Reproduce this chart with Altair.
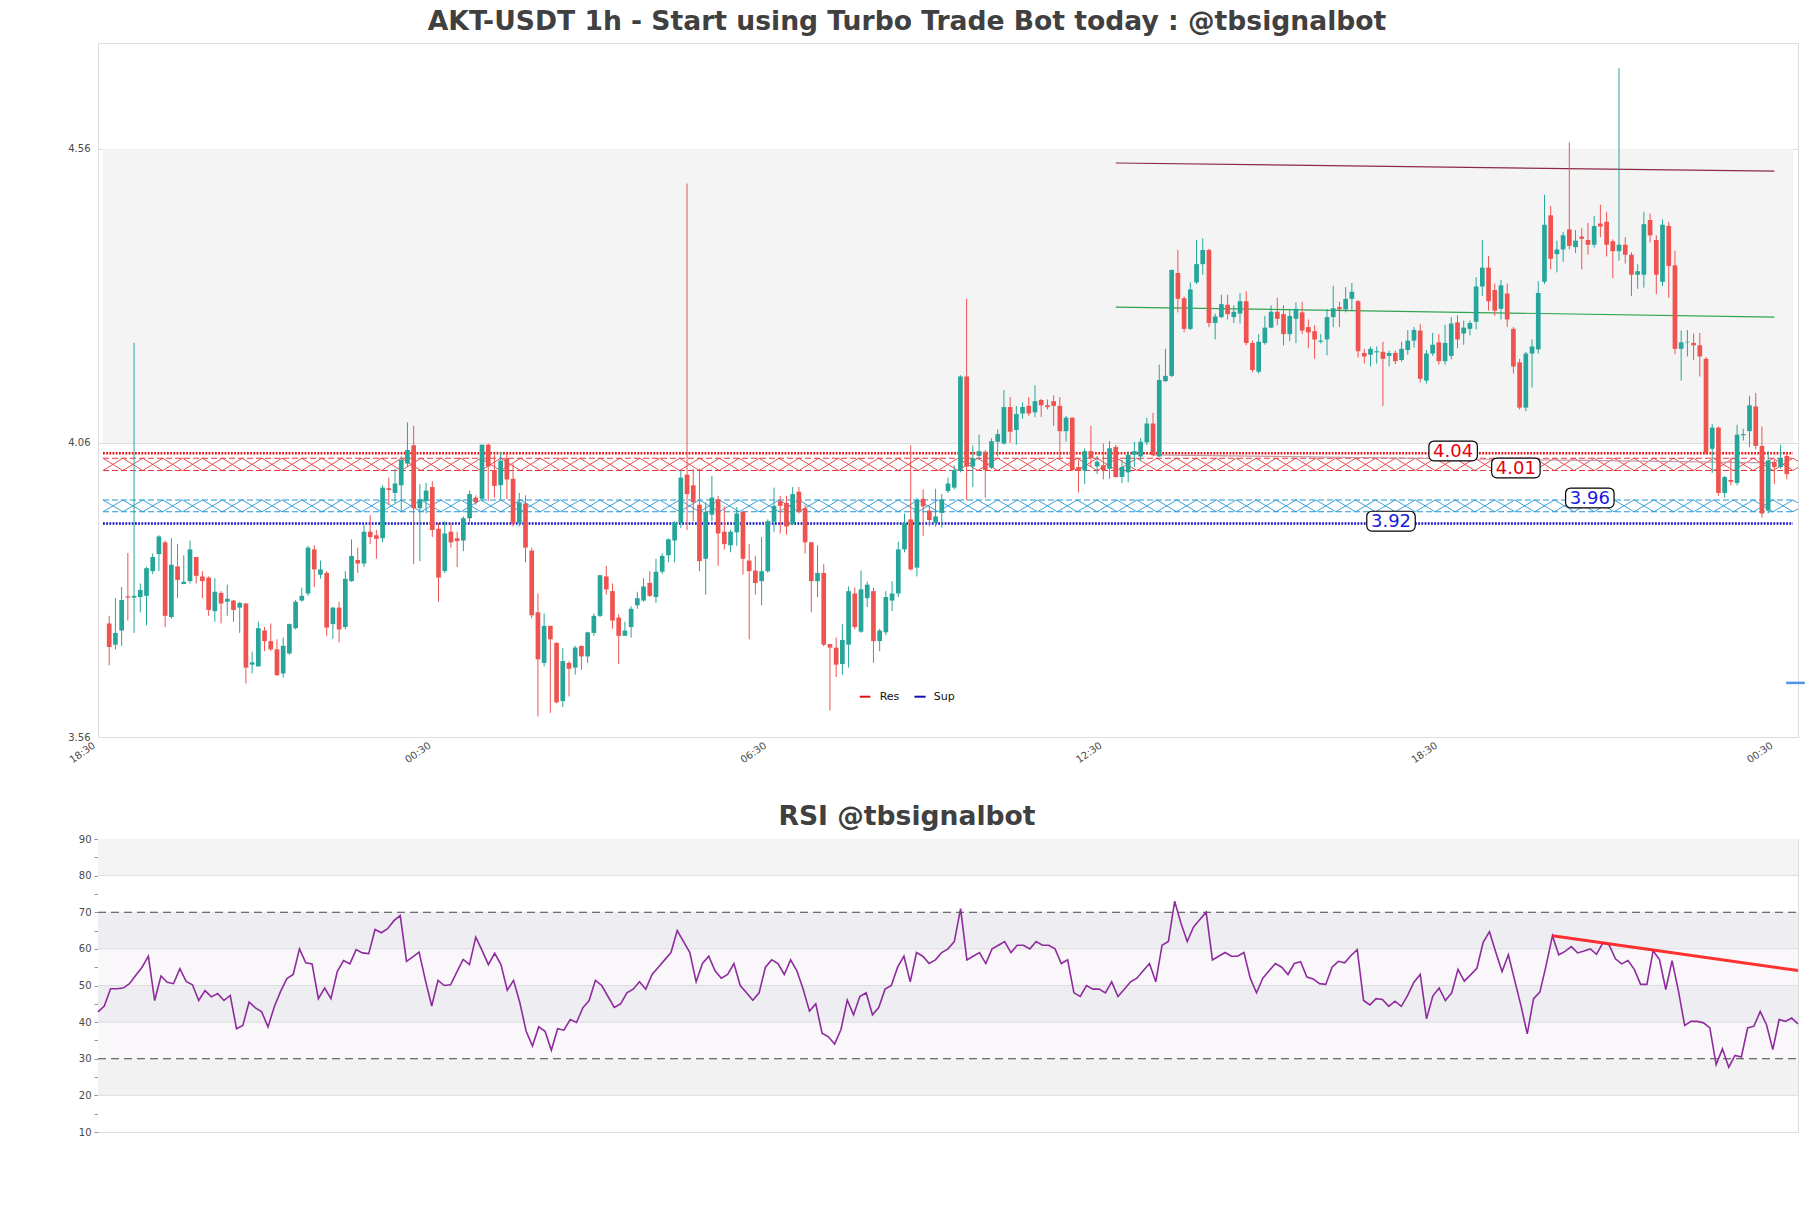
import altair as alt
import pandas as pd

# ---------------- data ----------------
open_ = [3.753, 3.717, 3.741, 3.799, 3.797, 3.798, 3.800, 3.842, 3.871, 3.891,
         3.764, 3.850, 3.820, 3.825, 3.866, 3.833, 3.831, 3.774, 3.805, 3.790,
         3.792, 3.780, 3.787, 3.683, 3.680, 3.741, 3.723, 3.709, 3.668, 3.702,
         3.745, 3.792, 3.804, 3.879, 3.836, 3.839, 3.752, 3.780, 3.747, 3.825,
         3.861, 3.855, 3.909, 3.903, 3.898, 3.983, 3.975, 3.988, 4.025, 4.056,
         3.949, 3.961, 3.985, 3.914, 3.842, 3.909, 3.898, 3.894, 3.932, 3.967,
         3.965, 4.057, 4.014, 3.988, 4.034, 3.999, 3.923, 3.957, 3.877, 3.772,
         3.686, 3.749, 3.720, 3.621, 3.686, 3.678, 3.715, 3.697, 3.737, 3.766,
         3.833, 3.808, 3.763, 3.732, 3.747, 3.784, 3.792, 3.822, 3.798, 3.841,
         3.869, 3.894, 3.924, 4.006, 3.988, 3.955, 3.863, 3.938, 3.964, 3.909,
         3.886, 3.908, 3.943, 3.860, 3.843, 3.825, 3.842, 3.926, 3.961, 3.958,
         3.922, 3.977, 3.949, 3.891, 3.825, 3.839, 3.718, 3.712, 3.684, 3.717,
         3.804, 3.739, 3.796, 3.808, 3.723, 3.738, 3.792, 3.804, 3.879, 3.930,
         3.848, 3.965, 3.945, 3.924, 3.941, 3.978, 3.984, 4.013, 4.173, 4.020,
         4.038, 4.045, 4.018, 4.062, 4.059, 4.121, 4.082, 4.110, 4.123, 4.112,
         4.133, 4.124, 4.131, 4.123, 4.080, 4.103, 4.019, 4.013, 4.046, 4.020,
         4.022, 4.016, 4.053, 4.002, 4.010, 4.040, 4.037, 4.061, 4.093, 4.037,
         4.165, 4.174, 4.349, 4.306, 4.254, 4.333, 4.364, 4.388, 4.264, 4.274,
         4.295, 4.274, 4.280, 4.301, 4.230, 4.181, 4.230, 4.256, 4.283, 4.279,
         4.245, 4.271, 4.282, 4.257, 4.250, 4.232, 4.236, 4.274, 4.291, 4.287,
         4.305, 4.301, 4.213, 4.210, 4.214, 4.215, 4.208, 4.213, 4.201, 4.218,
         4.234, 4.251, 4.166, 4.212, 4.231, 4.199, 4.208, 4.265, 4.246, 4.254,
         4.266, 4.326, 4.358, 4.320, 4.288, 4.314, 4.254, 4.197, 4.120, 4.212,
         4.219, 4.334, 4.447, 4.381, 4.389, 4.423, 4.393, 4.411, 4.405, 4.397,
         4.433, 4.436, 4.403, 4.386, 4.397, 4.380, 4.346, 4.346, 4.439, 4.405,
         4.334, 4.429, 4.362, 4.220, 4.231, 4.230, 4.226, 4.203, 4.050, 4.086,
         3.975, 3.997, 3.992, 4.073, 4.080, 4.122, 4.055, 3.945, 4.028, 4.019,
         4.038]

high = [3.766, 3.796, 3.815, 3.873, 4.230, 3.821, 3.849, 3.872, 3.903, 3.894,
        3.898, 3.888, 3.869, 3.894, 3.866, 3.842, 3.833, 3.830, 3.808, 3.819,
        3.793, 3.790, 3.788, 3.705, 3.756, 3.747, 3.753, 3.726, 3.729, 3.753,
        3.793, 3.814, 3.885, 3.886, 3.860, 3.842, 3.781, 3.790, 3.842, 3.896,
        3.882, 3.921, 3.937, 3.912, 3.988, 4.001, 4.016, 4.037, 4.095, 4.089,
        3.990, 3.992, 3.995, 3.924, 3.927, 3.924, 3.909, 3.935, 3.979, 3.971,
        4.057, 4.059, 4.039, 4.044, 4.042, 4.025, 3.975, 3.971, 3.882, 3.804,
        3.770, 3.749, 3.721, 3.711, 3.689, 3.715, 3.715, 3.739, 3.770, 3.836,
        3.851, 3.821, 3.769, 3.756, 3.782, 3.807, 3.830, 3.842, 3.863, 3.872,
        3.898, 3.927, 4.013, 4.501, 4.016, 4.016, 3.959, 4.004, 3.970, 3.952,
        3.912, 3.951, 3.943, 3.888, 3.868, 3.900, 3.930, 3.984, 3.970, 3.970,
        3.985, 3.985, 3.955, 3.892, 3.886, 3.854, 3.718, 3.729, 3.752, 3.816,
        3.814, 3.843, 3.824, 3.814, 3.744, 3.808, 3.825, 3.892, 3.940, 4.056,
        3.967, 3.981, 3.952, 3.982, 3.973, 4.001, 4.022, 4.175, 4.305, 4.056,
        4.074, 4.048, 4.068, 4.083, 4.150, 4.138, 4.123, 4.129, 4.138, 4.158,
        4.135, 4.134, 4.141, 4.138, 4.106, 4.103, 4.031, 4.051, 4.089, 4.038,
        4.059, 4.063, 4.057, 4.031, 4.046, 4.062, 4.068, 4.103, 4.111, 4.193,
        4.220, 4.355, 4.388, 4.309, 4.333, 4.405, 4.408, 4.390, 4.280, 4.312,
        4.312, 4.294, 4.315, 4.318, 4.234, 4.245, 4.276, 4.294, 4.307, 4.294,
        4.288, 4.299, 4.300, 4.270, 4.260, 4.245, 4.288, 4.327, 4.300, 4.325,
        4.332, 4.303, 4.220, 4.224, 4.224, 4.232, 4.217, 4.217, 4.232, 4.252,
        4.257, 4.262, 4.218, 4.247, 4.245, 4.261, 4.274, 4.277, 4.268, 4.268,
        4.342, 4.405, 4.378, 4.331, 4.337, 4.331, 4.257, 4.203, 4.215, 4.236,
        4.335, 4.482, 4.463, 4.404, 4.419, 4.571, 4.422, 4.425, 4.434, 4.446,
        4.465, 4.453, 4.406, 4.697, 4.410, 4.384, 4.364, 4.453, 4.450, 4.413,
        4.440, 4.436, 4.387, 4.251, 4.252, 4.246, 4.247, 4.206, 4.092, 4.088,
        4.004, 4.035, 4.091, 4.084, 4.140, 4.145, 4.088, 4.046, 4.032, 4.057,
        4.040]

low = [3.682, 3.709, 3.715, 3.758, 3.737, 3.772, 3.750, 3.837, 3.842, 3.747,
       3.761, 3.796, 3.820, 3.821, 3.821, 3.796, 3.766, 3.756, 3.753, 3.766,
       3.756, 3.737, 3.651, 3.668, 3.680, 3.706, 3.706, 3.664, 3.661, 3.700,
       3.743, 3.790, 3.800, 3.815, 3.829, 3.732, 3.727, 3.721, 3.743, 3.824,
       3.839, 3.849, 3.888, 3.863, 3.891, 3.955, 3.958, 3.943, 4.019, 3.854,
       3.859, 3.940, 3.900, 3.790, 3.839, 3.882, 3.849, 3.876, 3.924, 3.955,
       3.961, 3.961, 3.967, 3.964, 3.964, 3.918, 3.918, 3.857, 3.762, 3.595,
       3.680, 3.601, 3.617, 3.611, 3.629, 3.666, 3.674, 3.686, 3.732, 3.764,
       3.802, 3.744, 3.684, 3.732, 3.729, 3.778, 3.790, 3.798, 3.788, 3.837,
       3.857, 3.857, 3.915, 3.912, 3.927, 3.842, 3.802, 3.927, 3.851, 3.879,
       3.874, 3.885, 3.836, 3.726, 3.802, 3.784, 3.839, 3.909, 3.906, 3.904,
       3.920, 3.940, 3.872, 3.772, 3.798, 3.714, 3.605, 3.662, 3.666, 3.678,
       3.743, 3.737, 3.781, 3.686, 3.706, 3.733, 3.774, 3.798, 3.874, 3.843,
       3.833, 3.902, 3.918, 3.918, 3.916, 3.975, 3.981, 4.010, 3.963, 3.985,
       4.031, 3.967, 4.016, 4.037, 4.057, 4.060, 4.057, 4.101, 4.106, 4.104,
       4.104, 4.117, 4.089, 4.034, 4.062, 4.012, 3.976, 3.990, 4.019, 4.007,
       3.998, 3.999, 4.001, 3.992, 3.993, 4.019, 4.030, 4.056, 4.037, 4.036,
       4.164, 4.172, 4.282, 4.248, 4.252, 4.330, 4.346, 4.257, 4.236, 4.272,
       4.270, 4.264, 4.263, 4.226, 4.180, 4.178, 4.227, 4.255, 4.260, 4.226,
       4.233, 4.230, 4.245, 4.221, 4.203, 4.229, 4.209, 4.257, 4.257, 4.282,
       4.285, 4.205, 4.195, 4.190, 4.195, 4.123, 4.190, 4.194, 4.198, 4.210,
       4.222, 4.163, 4.161, 4.208, 4.193, 4.193, 4.202, 4.221, 4.227, 4.243,
       4.253, 4.310, 4.285, 4.276, 4.270, 4.257, 4.178, 4.117, 4.114, 4.154,
       4.212, 4.330, 4.355, 4.350, 4.368, 4.389, 4.383, 4.355, 4.380, 4.392,
       4.410, 4.377, 4.340, 4.370, 4.365, 4.310, 4.322, 4.324, 4.401, 4.313,
       4.327, 4.307, 4.211, 4.166, 4.207, 4.201, 4.173, 4.040, 4.009, 3.970,
       3.967, 3.988, 3.988, 4.064, 4.053, 4.049, 3.933, 3.940, 3.990, 4.016,
       3.998]

close = [3.713, 3.737, 3.793, 3.797, 3.800, 3.810, 3.847, 3.866, 3.901, 3.766,
         3.853, 3.827, 3.824, 3.879, 3.834, 3.825, 3.776, 3.807, 3.787, 3.795,
         3.776, 3.788, 3.678, 3.687, 3.745, 3.723, 3.709, 3.665, 3.715, 3.752,
         3.790, 3.800, 3.882, 3.845, 3.845, 3.746, 3.780, 3.743, 3.829, 3.868,
         3.855, 3.909, 3.900, 3.897, 3.984, 3.980, 3.991, 4.031, 4.048, 3.949,
         3.964, 3.979, 3.912, 3.831, 3.906, 3.891, 3.893, 3.932, 3.973, 3.959,
         4.057, 4.020, 3.987, 4.030, 3.998, 3.923, 3.959, 3.882, 3.767, 3.692,
         3.749, 3.726, 3.619, 3.689, 3.676, 3.712, 3.697, 3.738, 3.766, 3.835,
         3.811, 3.758, 3.732, 3.741, 3.778, 3.796, 3.816, 3.800, 3.841, 3.868,
         3.896, 3.924, 4.001, 3.973, 3.959, 3.859, 3.943, 3.967, 3.906, 3.888,
         3.909, 3.940, 3.863, 3.842, 3.822, 3.842, 3.927, 3.953, 3.953, 3.918,
         3.973, 3.943, 3.891, 3.825, 3.839, 3.717, 3.712, 3.683, 3.725, 3.808,
         3.747, 3.811, 3.819, 3.723, 3.741, 3.798, 3.804, 3.879, 3.924, 3.845,
         3.963, 3.952, 3.929, 3.935, 3.964, 3.991, 4.014, 4.173, 4.020, 4.034,
         4.046, 4.014, 4.063, 4.075, 4.121, 4.079, 4.109, 4.121, 4.110, 4.131,
         4.124, 4.121, 4.123, 4.080, 4.103, 4.014, 4.013, 4.046, 4.034, 4.028,
         4.014, 4.051, 4.002, 4.019, 4.040, 4.046, 4.062, 4.093, 4.039, 4.167,
         4.174, 4.354, 4.305, 4.254, 4.321, 4.364, 4.388, 4.264, 4.275, 4.296,
         4.279, 4.283, 4.301, 4.230, 4.184, 4.232, 4.256, 4.283, 4.271, 4.245,
         4.276, 4.288, 4.251, 4.248, 4.236, 4.234, 4.274, 4.289, 4.287, 4.305,
         4.317, 4.216, 4.207, 4.220, 4.216, 4.203, 4.213, 4.199, 4.220, 4.234,
         4.252, 4.169, 4.212, 4.227, 4.199, 4.230, 4.263, 4.236, 4.256, 4.264,
         4.326, 4.358, 4.301, 4.285, 4.328, 4.270, 4.190, 4.120, 4.212, 4.224,
         4.315, 4.431, 4.373, 4.389, 4.413, 4.395, 4.404, 4.407, 4.397, 4.429,
         4.428, 4.397, 4.386, 4.397, 4.380, 4.346, 4.352, 4.432, 4.413, 4.346,
         4.431, 4.361, 4.220, 4.231, 4.232, 4.226, 4.207, 4.044, 4.086, 3.975,
         4.002, 3.994, 4.074, 4.075, 4.124, 4.055, 3.940, 4.030, 4.019, 4.034,
         4.007]

rsi = [42.8, 44.4, 49.1, 49.1, 49.3, 50.5, 52.8, 55.0, 58.0, 45.9,
       52.6, 50.9, 50.5, 54.6, 51.1, 50.2, 45.9, 48.6, 46.9, 47.8,
       45.9, 47.3, 38.2, 39.1, 45.5, 43.9, 42.8, 38.7, 44.2, 48.4,
       51.9, 53.0, 60.0, 56.2, 55.9, 46.4, 49.3, 46.4, 53.8, 56.8,
       55.9, 59.8, 58.9, 58.7, 65.3, 64.4, 65.5, 67.7, 69.1, 56.6,
       57.8, 59.1, 51.4, 44.4, 51.4, 50.0, 50.2, 53.7, 57.1, 55.7,
       63.2, 59.6, 55.7, 58.8, 55.7, 48.7, 51.4, 45.3, 37.5, 33.5,
       38.7, 37.5, 32.3, 38.2, 37.8, 40.7, 39.9, 43.9, 45.9, 51.4,
       50.0, 47.0, 44.0, 45.0, 48.0, 49.0, 51.0, 49.0, 53.0, 55.0,
       57.0, 59.0, 65.0, 62.0, 59.0, 51.0, 56.0, 58.0, 54.0, 52.0,
       53.0, 56.0, 50.0, 48.0, 46.0, 48.0, 55.0, 57.0, 56.0, 53.0,
       57.0, 54.0, 49.0, 43.0, 45.0, 37.0, 36.0, 34.0, 38.0, 46.0,
       42.0, 47.0, 48.0, 42.0, 44.0, 49.0, 50.0, 55.0, 58.0, 51.0,
       59.0, 58.0, 56.0, 57.0, 59.0, 60.0, 62.0, 71.0, 57.0, 58.0,
       59.0, 56.0, 60.0, 61.0, 62.0, 59.0, 61.0, 61.0, 60.0, 62.0,
       61.0, 61.0, 60.0, 56.0, 57.0, 48.0, 47.0, 50.0, 49.0, 49.0,
       48.0, 51.0, 47.0, 49.0, 51.0, 52.0, 54.0, 56.0, 51.0, 61.0,
       62.0, 73.0, 67.0, 62.0, 66.0, 68.0, 70.0, 57.0, 58.0, 59.0,
       58.0, 58.0, 59.0, 52.0, 48.0, 52.0, 54.0, 56.0, 55.0, 53.0,
       56.0, 56.5, 52.3, 51.8, 50.5, 50.3, 55.0, 56.6, 56.2, 58.2,
       59.8, 45.9, 44.7, 46.4, 46.2, 44.3, 45.7, 44.3, 47.3, 50.9,
       53.0, 40.9, 47.1, 49.3, 45.9, 48.0, 54.4, 51.2, 52.9, 54.7,
       61.8, 64.7, 59.1, 53.8, 58.4, 51.4, 44.5, 36.8, 46.4, 48.2,
       55.5, 63.6, 58.4, 59.3, 60.6, 58.9, 59.4, 60.0, 58.5, 61.6,
       61.1, 57.3, 55.9, 56.8, 54.4, 50.3, 50.3, 59.5, 57.1, 48.9,
       56.8, 48.6, 39.1, 40.2, 40.2, 39.8, 38.4, 28.4, 32.7, 27.7,
       30.9, 30.5, 38.4, 38.9, 42.9, 39.3, 32.5, 40.7, 40.2, 41.1,
       39.5]

# x axis ticks (candle index) and their labels
xtick_pos = [-1, 53, 107, 161, 215, 269]
xtick_labels = ["18:30", "00:30", "06:30", "12:30", "18:30", "00:30"]
ytick_price = [3.56, 4.06, 4.56]

# support / resistance levels and zones
res_level = 4.0425
sup_level = 3.923
res_zone = [4.013, 4.034]
sup_zone = [3.943, 3.963]

# level labels
lvl_text = ["4.04", "4.01", "3.96", "3.92"]
lvl_i = [216.3, 226.4, 238.3, 206.3]
lvl_price = [4.0464, 4.0175, 3.9665, 3.927]
lvl_color = ["#e8000b", "#e8000b", "#1a1adb", "#1a1adb"]

# trend lines on price (start idx, start price, end idx, end price)
trend_brown = [162, 4.536, 268, 4.522]
trend_green = [162, 4.291, 268, 4.274]
trend_faint = [168, 4.0396, 268, 4.026]
blue_dash = [269.9, 272.9, 3.652]

# RSI trend line
rsi_trend = [231, 63.6, 270, 54.1]

TITLE = "AKT-USDT 1h - Start using Turbo Trade Bot today : @tbsignalbot"
RSI_TITLE = "RSI @tbsignalbot"

# ---------------- chart ----------------
FONT = "DejaVu Sans"
UP, DOWN = "#26a69a", "#ef5350"
XD = [-1, 271]
n = len(open_)

candles = pd.DataFrame({"i": list(range(n)), "open": open_, "high": high,
                        "low": low, "close": close})
candles["col"] = [UP if c >= o else DOWN for o, c in zip(open_, close)]

label_expr = " : ".join(f"datum.value == {p} ? '{l}'" for p, l in zip(xtick_pos, xtick_labels)) + " : ''"

xs = alt.Scale(domain=XD, nice=False, zero=False)
ys = alt.Scale(domain=[3.56, 4.74], nice=False, zero=False)

x_axis = alt.Axis(values=xtick_pos, labelExpr=label_expr, labelAngle=-35,
                  labelAlign="right", labelBaseline="top", grid=False, ticks=False,
                  domain=False, labelFontSize=10, labelColor="#4a4a4a",
                  labelFont=FONT, title=None, labelPadding=3, labelOffset=-12)
y_axis = alt.Axis(values=ytick_price, format=".2f", grid=True, gridColor="#dddddd",
                  ticks=False, domain=False, labelFontSize=10, labelColor="#4a4a4a",
                  labelFont=FONT, title=None, labelPadding=8,
                  minExtent=34, maxExtent=34)


def X(field):
    return alt.X(f"{field}:Q", scale=xs, axis=x_axis)


def Y(field):
    return alt.Y(f"{field}:Q", scale=ys, axis=y_axis)


band = alt.Chart(pd.DataFrame({"x": [XD[0]], "x2": [XD[1]], "y": [4.06], "y2": [4.56]})).mark_rect(
    color="#f4f4f4").encode(x=X("x"), x2="x2", y=Y("y"), y2="y2")

# hatched zones (diamond lattice from two opposed zigzags)
hatch_step = 3.2
rows = []
for zname, (lo, hi), col in [("res", res_zone, "#e8383d"), ("sup", sup_zone, "#2596d6")]:
    k = 0
    x = XD[0]
    while x <= XD[1] + hatch_step:
        rows.append({"key": zname + "a", "x": x, "y": hi if k % 2 == 0 else lo, "o": k, "col": col})
        rows.append({"key": zname + "b", "x": x, "y": lo if k % 2 == 0 else hi, "o": k, "col": col})
        k += 1
        x += hatch_step
hatch = alt.Chart(pd.DataFrame(rows)).mark_line(strokeWidth=0.9, clip=True).encode(
    x=X("x"), y=Y("y"), detail="key:N", order="o:Q", color=alt.Color("col:N", scale=None))

edges_df = pd.DataFrame({
    "x": [XD[0]] * 4, "x2": [XD[1]] * 4,
    "y": [res_zone[0], res_zone[1], sup_zone[0], sup_zone[1]],
    "col": ["#e8383d", "#e8383d", "#2596d6", "#2596d6"]})
edges = alt.Chart(edges_df).mark_rule(strokeWidth=1.1, strokeDash=[6, 3]).encode(
    x=X("x"), x2="x2", y=Y("y"), color=alt.Color("col:N", scale=None))

levels_df = pd.DataFrame({"x": [XD[0]] * 2, "x2": [XD[1]] * 2,
                          "y": [res_level, sup_level], "col": ["#ee1111", "#1111cc"]})
levels = alt.Chart(levels_df).mark_rule(strokeWidth=2.4, strokeDash=[1.8, 1.4]).encode(
    x=X("x"), x2="x2", y=Y("y"), color=alt.Color("col:N", scale=None))

tl_df = pd.DataFrame({
    "x": [trend_brown[0], trend_green[0], trend_faint[0]],
    "x2": [trend_brown[2], trend_green[2], trend_faint[2]],
    "y": [trend_brown[1], trend_green[1], trend_faint[1]],
    "y2": [trend_brown[3], trend_green[3], trend_faint[3]],
    "col": ["#8c2a42", "#2ea44f", "#c49aa6"]})
tlines = alt.Chart(tl_df).mark_rule(strokeWidth=1.2).encode(
    x=X("x"), x2="x2", y=Y("y"), y2="y2", color=alt.Color("col:N", scale=None))

wicks = alt.Chart(candles).mark_rule(strokeWidth=1).encode(
    x=X("i"), y=Y("low"), y2="high", color=alt.Color("col:N", scale=None))
bodies = alt.Chart(candles).mark_bar(size=4.7).encode(
    x=X("i"), y=Y("open"), y2="close", color=alt.Color("col:N", scale=None))

lvl_df = pd.DataFrame({"t": lvl_text, "i": lvl_i, "p": lvl_price, "col": lvl_color})
lvl_df["x"] = lvl_df["i"] - 3.9
lvl_df["x2"] = lvl_df["i"] + 3.9
lvl_df["y"] = lvl_df["p"] - 0.0168
lvl_df["y2"] = lvl_df["p"] + 0.0168
boxes = alt.Chart(lvl_df).mark_rect(fill="white", stroke="black", strokeWidth=1.2,
                                    cornerRadius=5).encode(x=X("x"), x2="x2", y=Y("y"), y2="y2")
btxt = alt.Chart(lvl_df).mark_text(font=FONT, fontSize=18, baseline="middle", align="center", dy=1).encode(
    x=X("i"), y=Y("p"), text="t:N", color=alt.Color("col:N", scale=None))

leg_df = pd.DataFrame({"x": [120.8, 129.6], "x2": [122.5, 131.4], "tx": [124.0, 132.7],
                       "y": [3.6285, 3.6285], "t": ["Res", "Sup"], "col": ["#dd1111", "#1111bb"]})
leg_lines = alt.Chart(leg_df).mark_rule(strokeWidth=2).encode(
    x=X("x"), x2="x2", y=Y("y"), color=alt.Color("col:N", scale=None))
leg_text = alt.Chart(leg_df).mark_text(font=FONT, fontSize=11, align="left", baseline="middle",
                                       color="#111111").encode(x=X("tx"), y=Y("y"), text="t:N")

bd = alt.Chart(pd.DataFrame({"x": [blue_dash[0]], "x2": [blue_dash[1]], "y": [blue_dash[2]]})).mark_rule(
    strokeWidth=2.5, color="#4f93e6", clip=False).encode(x=X("x"), x2="x2", y=Y("y"))

title_common = dict(fontSize=26.6, font=FONT, fontWeight="bold", color="#404040",
                    anchor="middle", frame="group", dx=-41)

top = alt.layer(band, hatch, edges, levels, tlines, wicks, bodies, boxes, btxt,
                leg_lines, leg_text, bd).properties(
    width=1700, height=694, title=alt.TitleParams(TITLE, offset=7, **title_common))

# ---------------- RSI panel ----------------
rxs = alt.Scale(domain=[0, n - 1], nice=False, zero=False)
rys = alt.Scale(domain=[10, 90], nice=False, zero=False)
r_axis = alt.Axis(values=list(range(10, 95, 5)),
                  labelExpr="datum.value % 10 == 0 ? datum.label : ''",
                  ticks=True, tickSize=4, tickColor="#999999", domain=False, grid=False,
                  labelFontSize=10, labelColor="#4a4a4a", labelFont=FONT, title=None,
                  labelPadding=3, minExtent=34, maxExtent=34)


def RX(field):
    return alt.X(f"{field}:Q", scale=rxs, axis=None)


def RY(field):
    return alt.Y(f"{field}:Q", scale=rys, axis=r_axis)


rb_df = pd.DataFrame({
    "y": [80, 70, 60, 50, 40, 30, 20, 10],
    "y2": [90, 80, 70, 60, 50, 40, 30, 20],
    "col": ["#f3f3f3", "#ffffff", "#eeedf1", "#faf7fa", "#eeedf1", "#faf7fa", "#f2f2f2", "#ffffff"]})
rb_df["x"] = 0
rb_df["x2"] = n - 1
rbands = alt.Chart(rb_df).mark_rect().encode(
    x=RX("x"), x2="x2", y=RY("y"), y2="y2", color=alt.Color("col:N", scale=None))

rg_df = pd.DataFrame({"y": [20, 40, 50, 60, 80], "x": [0] * 5, "x2": [n - 1] * 5})
rgrid = alt.Chart(rg_df).mark_rule(color="#dedede", strokeWidth=1).encode(
    x=RX("x"), x2="x2", y=RY("y"))

rd_df = pd.DataFrame({"y": [70, 30], "x": [0, 0], "x2": [n - 1, n - 1]})
rdash = alt.Chart(rd_df).mark_rule(color="#444444", strokeWidth=1.2, strokeDash=[8, 5]).encode(
    x=RX("x"), x2="x2", y=RY("y"))

rsi_df = pd.DataFrame({"i": list(range(n)), "rsi": rsi})
rline = alt.Chart(rsi_df).mark_line(color="#8e2c9e", strokeWidth=1.6).encode(
    x=RX("i"), y=RY("rsi"))

rt_df = pd.DataFrame({"x": [rsi_trend[0]], "x2": [rsi_trend[2]], "y": [rsi_trend[1]], "y2": [rsi_trend[3]]})
rtrend = alt.Chart(rt_df).mark_rule(color="#ff1a1a", strokeWidth=3, opacity=0.9).encode(
    x=RX("x"), x2="x2", y=RY("y"), y2="y2")

rsi_chart = alt.layer(rbands, rgrid, rdash, rline, rtrend).properties(
    width=1700, height=293, title=alt.TitleParams(RSI_TITLE, offset=3, **title_common))

chart = alt.vconcat(top, rsi_chart, spacing=37).properties(
    padding={"left": 63, "top": 8, "right": 0, "bottom": 5}, background="white"
).configure_view(stroke="#dddddd", strokeWidth=1)

chart.save("out.html", embed_options={"renderer": "svg", "actions": False})
